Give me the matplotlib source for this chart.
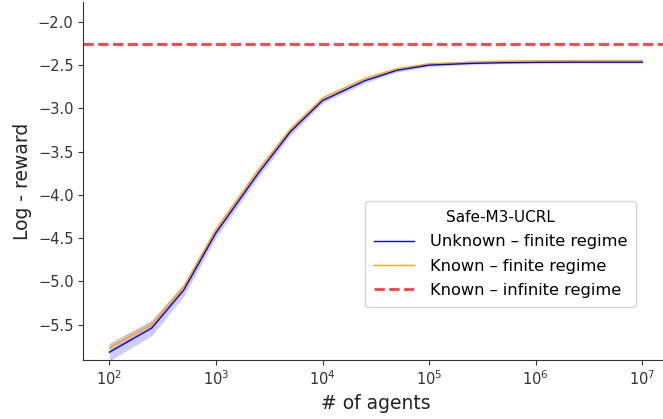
import numpy as np
import matplotlib
matplotlib.use("Agg")
import matplotlib.pyplot as plt
from matplotlib.lines import Line2D

# Number of agents (log scale)
n_agents = [1e2, 2.5e2, 5e2, 1e3, 2.5e3, 5e3, 1e4, 2.5e4, 5e4, 1e5,
            2.5e5, 5e5, 1e6, 2.5e6, 5e6, 1e7]

# Safe-M3-UCRL log-reward, unknown model (finite regime)
unknown_mean = [-5.82, -5.54, -5.10, -4.44, -3.75, -3.27, -2.91, -2.68, -2.56, -2.50,
                -2.48, -2.472, -2.468, -2.466, -2.466, -2.466]
unknown_std = [0.10, 0.09, 0.07, 0.055, 0.045, 0.04, 0.03, 0.025, 0.02, 0.015,
               0.012, 0.01, 0.01, 0.01, 0.01, 0.01]

# Safe-M3-UCRL log-reward, known model (finite regime)
known_mean = [-5.77, -5.50, -5.06, -4.40, -3.71, -3.24, -2.88, -2.655, -2.54, -2.485,
              -2.465, -2.455, -2.45, -2.448, -2.447, -2.447]
known_std = [0.06, 0.05, 0.04, 0.035, 0.03, 0.025, 0.02, 0.018, 0.015, 0.012,
             0.01, 0.008, 0.008, 0.008, 0.008, 0.008]

# Known model, infinite regime
known_infinite = -2.255

fig = plt.figure(figsize=(6.63, 4.19), dpi=100)
ax = fig.add_axes([83.3 / 663, 1 - 360 / 419, 585 / 663, 358 / 419])

x = np.array(n_agents)
um, us = np.array(unknown_mean), np.array(unknown_std)
km, ks = np.array(known_mean), np.array(known_std)

ax.fill_between(x, km - ks, km + ks, color="orange", alpha=0.2, lw=0)
ax.fill_between(x, um - us, um + us, color="blue", alpha=0.2, lw=0)
ax.plot(x, km, color="orange", lw=1.0)
ax.plot(x, um, color="blue", lw=1.0)
ax.axhline(known_infinite, color="red", ls="--", lw=2.0, alpha=0.75)

ax.set_xscale("log")
ax.set_xlim(10 ** (2 - 26 / 106.6), 10 ** (7 + 26 / 106.6))
ax.set_ylim(-5.91, -1.77)
ax.set_yticks([-5.5, -5.0, -4.5, -4.0, -3.5, -3.0, -2.5, -2.0])
ax.xaxis.set_minor_locator(matplotlib.ticker.NullLocator())
ax.tick_params(labelsize=10.5, colors="#333333", labelcolor="#333333")

ax.spines["top"].set_visible(False)
ax.spines["right"].set_visible(False)
for s in ("left", "bottom"):
    ax.spines[s].set_color("#333333")

ax.set_xlabel("# of agents", fontsize=13.5, color="#222222")
ax.set_ylabel("Log - reward", fontsize=13.5, color="#222222")

handles = [
    Line2D([], [], color="blue", lw=1.0),
    Line2D([], [], color="orange", lw=1.0),
    Line2D([], [], color="red", ls="--", lw=2.0, alpha=0.75),
]
labels = ["Unknown \u2013 finite regime", "Known \u2013 finite regime",
          "Known \u2013 infinite regime"]
leg = ax.legend(handles, labels, title="Safe-M3-UCRL", fontsize=11.7,
                title_fontsize=11, loc="lower right", borderaxespad=0,
                handlelength=2.5, handletextpad=0.95, labelspacing=0.58,
                borderpad=0.55,
                bbox_to_anchor=(0.945, 0.148), frameon=True)
leg.get_frame().set_edgecolor("#cccccc")

fig.savefig("out.png", dpi=100)
